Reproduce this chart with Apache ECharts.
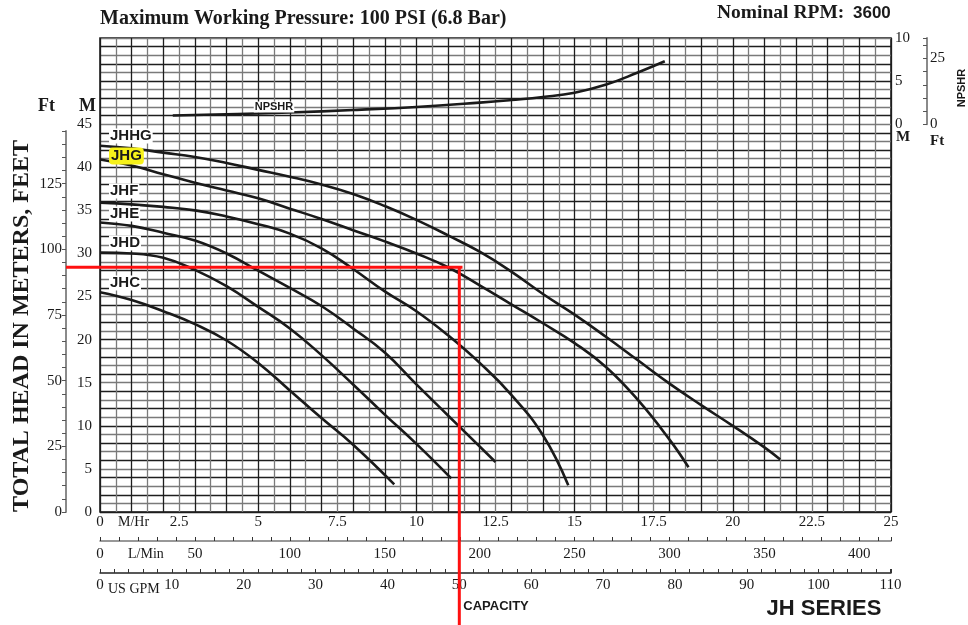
<!DOCTYPE html>
<html><head><meta charset="utf-8">
<script src="https://cdn.jsdelivr.net/npm/echarts@6/dist/echarts.min.js"></script>
<style>html,body{margin:0;padding:0;background:#fff}#c{width:968px;height:625px}</style>
</head><body><div id="c"></div>
<script>
// ---- data (flow in m3/h, head in m) ----
const jhhg = [[0,42.5],[1,42.2],[2,41.7],[3,41.2],[4,40.5],[5,39.7],[6,38.9],[7,38.0],[8,36.9],[9,35.5],[10,33.9],[11,32.1],[12,30.2],[13,27.9],[14,25.3],[15,22.9],[16,20.3],[17,17.6],[18,14.9],[19,12.4],[20,10.0],[21,7.5],[21.5,6.1]];
const jhg  = [[0,40.9],[1,40.2],[2,39.2],[3,38.2],[4,37.3],[5,36.4],[6,35.2],[7,34.0],[8,32.7],[9,31.4],[10,30.0],[11,28.4],[12,26.3],[13,24.1],[14,21.9],[15,19.6],[16,16.8],[17,13.0],[18,8.4],[18.6,5.2]];
const jhf  = [[0,35.9],[1,35.7],[2,35.4],[3,35.0],[4,34.3],[5,33.4],[6,32.3],[7,30.6],[8,28.2],[9,25.6],[10,23.3],[11,20.5],[12,17.3],[13,13.6],[14,8.9],[14.8,3.1]];
const jhe  = [[0,33.6],[1,33.2],[2,32.4],[3,31.5],[4,30.0],[5,28.0],[6,26.0],[7,23.9],[8,21.3],[9,18.5],[10,14.8],[11,11.2],[12.5,5.8]];
const jhd  = [[0,30.1],[1,30.0],[2,29.5],[3,28.1],[4,26.2],[5,23.8],[6,21.3],[7,18.2],[8,14.8],[9,11.3],[10,7.9],[11.1,3.9]];
const jhc  = [[0,25.5],[1,24.6],[2,23.3],[3,21.8],[4,19.9],[5,17.3],[6,14.1],[7,10.9],[8,7.8],[9.3,3.2]];
const npshr = [[2.3,1.0],[4,1.15],[6,1.35],[8,1.65],[10,2.0],[12,2.5],[13,2.8],[14,3.15],[15,3.65],[16,4.6],[17,6.0],[17.85,7.3]];
const dutyGpm = 50;      // red marker flow (US GPM)
const dutyHead = 28.4;   // red marker head (m)
const curveNames = ['JHHG','JHG','JHF','JHE','JHD','JHC'];
const flowMax = 25;             // m3/h
const headMax = 55;             // grid height in m (45 head + 10 NPSHR)
const ftMax = 145;              // left feet axis top
const GPM_PER_M3H = 4.40287;
const lminMax = flowMax*1000/60;
const gpmMax = flowMax*GPM_PER_M3H;
const M2FT = 0.3048;

const SERIF = "'Liberation Serif','DejaVu Serif',serif";
const SANS = "'Liberation Sans','DejaVu Sans',Arial,sans-serif";
const near = (v, s) => Math.abs(v/s - Math.round(v/s)) < 1e-6;

const G = {top:38, bottom:113, left:100, right:77};
const FT_AXIS_X = 66;
const H = 625 - G.top - G.bottom;
const W = 968 - G.left - G.right;
const grid1Top = G.top + H*(1 - ftMax*M2FT/headMax);
const grid2Bottom = 625 - (G.top + H*10/headMax);
const grid1FlowMin = -(G.left - FT_AXIS_X)*flowMax/W;   // flow value at the feet axis line

const chart = echarts.init(document.getElementById('c'), null, {renderer:'canvas'});

const curveSeries = [jhhg, jhg, jhf, jhe, jhd, jhc].map((d,i)=>({
  name: curveNames[i], type:'line', data:d, xAxisIndex:0, yAxisIndex:0,
  smooth:0.45, showSymbol:false, symbol:'none',
  lineStyle:{color:'#1a1a1a', width:2.6}, z:5, silent:true
}));

function txt(x,y,text,font,extra){
  return {type:'text', z:100, style:Object.assign({x:x,y:y,text:text,font:font,fill:'#1a1a1a',textAlign:'left',textVerticalAlign:'middle'}, extra||{})};
}
const noTick = {show:false};
const gridLine = {show:true, lineStyle:{color:['#1e1e1e','#7a7a7a'], width:1.3}};

const yTitle = txt(0,0,'TOTAL HEAD IN METERS, FEET','bold 24px '+SERIF,{textAlign:'center'});
yTitle.rotation = Math.PI/2; yTitle.x = 22; yTitle.y = 326;
const npTitle = txt(0,0,'NPSHR','bold 11px '+SANS,{textAlign:'center'});
npTitle.rotation = Math.PI/2; npTitle.x = 962; npTitle.y = 88;

const dutyFlow = dutyGpm/GPM_PER_M3H;   // same point expressed in m3/h
const dutyHeadFt = dutyHead/M2FT;

const option = {
  animation:false,
  backgroundColor:'#fff',
  grid:[
    Object.assign({show:true, borderColor:'#111', borderWidth:1.5, outerBoundsMode:'none'}, G),
    {left:FT_AXIS_X, right:G.right, top:grid1Top, bottom:G.bottom, outerBoundsMode:'none'},
    {left:G.left, right:41, top:G.top, bottom:grid2Bottom, outerBoundsMode:'none'}
  ],
  xAxis:[
    {type:'value', gridIndex:0, min:0, max:flowMax, interval:0.5,
     axisLine:{show:false, onZero:false}, axisTick:noTick, minorTick:noTick, minorSplitLine:noTick,
     axisLabel:{showMinLabel:true, showMaxLabel:true, margin:3, fontFamily:SERIF, fontSize:15, color:'#1a1a1a',
       formatter:v=> near(v,2.5) ? String(v) : ''},
     splitLine:gridLine},
    {type:'value', gridIndex:0, position:'bottom', offset:29, min:0, max:lminMax, interval:10,
     axisLine:{show:true, onZero:false, lineStyle:{color:'#777', width:1.5}},
     axisTick:{show:true, inside:true, length:4, lineStyle:{color:'#333'}},
     axisLabel:{showMinLabel:true, margin:6, fontFamily:SERIF, fontSize:15, color:'#1a1a1a',
       formatter:v=> near(v,50) ? String(v) : ''},
     splitLine:{show:false}},
    {type:'value', gridIndex:0, position:'bottom', offset:61, min:0, max:gpmMax, interval:2,
     axisLine:{show:true, onZero:false, lineStyle:{color:'#222', width:1.5}},
     axisTick:{show:true, inside:true, length:4, lineStyle:{color:'#333'}},
     axisLabel:{showMinLabel:true, margin:5, fontFamily:SERIF, fontSize:15, color:'#1a1a1a',
       formatter:v=> near(v,10) ? String(v) : ''},
     splitLine:{show:false}},
    {type:'value', gridIndex:1, show:false, min:grid1FlowMin, max:flowMax, axisTick:noTick, axisLine:{show:false, onZero:false}, splitLine:{show:false}, axisLabel:{show:false}},
    {type:'value', gridIndex:2, show:false, min:0, max:1, axisTick:noTick, axisLine:{show:false, onZero:false}, splitLine:{show:false}, axisLabel:{show:false}}
  ],
  yAxis:[
    {type:'value', gridIndex:0, min:0, max:headMax, interval:1,
     axisLine:{show:false, onZero:false}, axisTick:noTick, minorTick:noTick, minorSplitLine:noTick,
     axisLabel:{showMinLabel:true, margin:8, fontFamily:SERIF, fontSize:15, color:'#1a1a1a',
       formatter:v=> (v<=45 && near(v,5)) ? String(v) : ''},
     splitLine:gridLine},
    {type:'value', gridIndex:0, position:'right', min:-45, max:10, interval:5,
     axisLine:{show:false, onZero:false}, axisTick:noTick, splitLine:{show:false},
     axisLabel:{showMaxLabel:true, margin:4, fontFamily:SERIF, fontSize:15, color:'#1a1a1a',
       formatter:v=> v>=0 ? String(v) : ''}},
    {type:'value', gridIndex:1, position:'left', min:0, max:ftMax, interval:5,
     axisLine:{show:true, onZero:false, lineStyle:{color:'#8a8a8a', width:2}},
     axisTick:{show:true, length:4, lineStyle:{color:'#555'}},
     splitLine:{show:false},
     axisLabel:{showMinLabel:true, margin:4, fontFamily:SERIF, fontSize:15, color:'#1a1a1a',
       formatter:v=> near(v,25) ? String(v) : ''}},
    {type:'value', gridIndex:2, position:'right', min:0, max:10/M2FT, interval:5,
     axisLine:{show:true, onZero:false, lineStyle:{color:'#8a8a8a', width:2}},
     axisTick:{show:true, inside:true, length:4, lineStyle:{color:'#555'}},
     splitLine:{show:false},
     axisLabel:{showMinLabel:true, margin:3, fontFamily:SERIF, fontSize:15, color:'#1a1a1a',
       formatter:v=> near(v,25) ? String(v) : ''}}
  ],
  series: curveSeries.concat([
    {name:'NPSHR', type:'line', data:npshr, xAxisIndex:0, yAxisIndex:1, smooth:0.45,
     showSymbol:false, symbol:'none', lineStyle:{color:'#1a1a1a', width:2.6}, z:5, silent:true},
    {name:'dutyH', type:'line', xAxisIndex:3, yAxisIndex:2, clip:false, showSymbol:false, symbol:'none',
     data:[[grid1FlowMin,dutyHeadFt],[dutyFlow+0.1,dutyHeadFt]], lineStyle:{color:'#ff1010', width:3}, z:20, silent:true},
    {name:'dutyV', type:'line', xAxisIndex:0, yAxisIndex:0, clip:false, showSymbol:false, symbol:'none',
     data:[[dutyFlow,dutyHead],[dutyFlow,-14]], lineStyle:{color:'#ff1010', width:3}, z:20, silent:true}
  ]),
  graphic:[
    txt(100,19,'Maximum Working Pressure: 100 PSI (6.8 Bar)','bold 20px '+SERIF),
    txt(717,13,'Nominal RPM:','bold 19.5px '+SERIF),
    txt(853,13,'3600','bold 17px '+SANS),
    yTitle,
    txt(38,106,'Ft','bold 18px '+SERIF),
    txt(79,106,'M','bold 18px '+SERIF),
    txt(896,137,'M','bold 15px '+SERIF),
    txt(930,141,'Ft','bold 15px '+SERIF),
    txt(118,522,'M/Hr','14px '+SERIF),
    txt(128,554,'L/Min','14px '+SERIF),
    txt(108,589,'US GPM','14px '+SERIF),
    txt(496,606,'CAPACITY','bold 13px '+SANS,{textAlign:'center'}),
    txt(824,609,'JH SERIES','bold 22px '+SANS,{textAlign:'center'}),
    txt(274,107,'NPSHR','bold 11px '+SANS,{textAlign:'center', backgroundColor:'#fff', padding:[0,1]}),
    txt(109,136,'JHHG','bold 15px '+SANS,{backgroundColor:'#fff', padding:[0,1]}),
    txt(109,156,'JHG','bold 15px '+SANS,{backgroundColor:'#f7f21a', padding:[1,2], borderRadius:4}),
    txt(109,191,'JHF','bold 15px '+SANS,{backgroundColor:'#fff', padding:[0,1]}),
    txt(109,214,'JHE','bold 15px '+SANS,{backgroundColor:'#fff', padding:[0,1]}),
    txt(109,243,'JHD','bold 15px '+SANS,{backgroundColor:'#fff', padding:[0,1]}),
    txt(109,283,'JHC','bold 15px '+SANS,{backgroundColor:'#fff', padding:[0,1]}),
    npTitle
  ]
};
chart.setOption(option);
</script>
</body></html>
